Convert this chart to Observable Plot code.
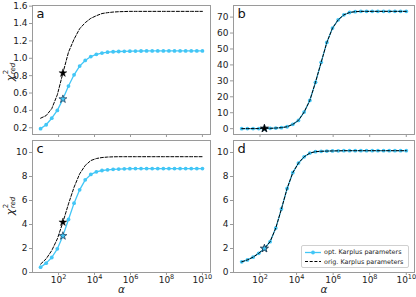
<!DOCTYPE html>
<html><head><meta charset="utf-8">
<script src="https://cdn.jsdelivr.net/npm/d3@7"></script>
<script src="https://cdn.jsdelivr.net/npm/@observablehq/plot@0.6"></script>
<style>
body{margin:0;background:#fff;}
#fig{position:relative;width:416px;height:297px;font-family:"DejaVu Sans",sans-serif;overflow:hidden;background:#fff;}
#fig svg.plotsvg{position:absolute;}
.ylab{position:absolute;transform:translate(-50%,-50%) rotate(-90deg);white-space:nowrap;font-size:11px;color:#222;display:flex;align-items:center;}
.ylab .ss{display:inline-flex;flex-direction:column;font-size:7px;line-height:7px;margin-left:0.5px;}
.legend{position:absolute;left:301px;top:245px;width:106px;height:21px;border:1px solid #d0d0d0;border-radius:2px;background:#fff;font-size:6.4px;color:#222;}
.legend .row{position:absolute;left:3px;display:flex;align-items:center;white-space:nowrap;}
.legend svg{margin-right:3px;}
</style>
</head><body><div id="fig"></div>
<script>
// x values (alpha)
const alpha = [10, 20.43, 41.75, 85.32, 174.3, 356.2, 727.9, 1487, 3039, 6210,
  12690, 25929, 52983, 108264, 221222, 452035, 923671, 1887392, 3856620, 7880463,
  16102620, 32903446, 67233575, 137382380, 280721620, 573615251, 1172102213, 2395026619, 4893900918, 10000000000];

// panel a
const aOpt = [0.19, 0.235, 0.31, 0.40, 0.53, 0.68, 0.81, 0.91, 0.975, 1.02,
  1.045, 1.06, 1.07, 1.075, 1.078, 1.08, 1.082, 1.083, 1.084, 1.085,
  1.085, 1.085, 1.085, 1.085, 1.085, 1.085, 1.085, 1.085, 1.085, 1.085];
const aOrig = [0.31, 0.34, 0.42, 0.58, 0.83, 1.07, 1.22, 1.34, 1.41, 1.46,
  1.49, 1.515, 1.525, 1.532, 1.536, 1.538, 1.54, 1.54, 1.54, 1.54,
  1.54, 1.54, 1.54, 1.54, 1.54, 1.54, 1.54, 1.54, 1.54, 1.54];
// panel b
const bOpt = [0.02, 0.03, 0.05, 0.08, 0.12, 0.2, 0.4, 0.65, 1.2, 2.7,
  5.2, 10.4, 17.7, 29.1, 41.6, 54.1, 63.1, 68.3, 71.4, 72.9,
  73.4, 73.6, 73.6, 73.6, 73.6, 73.6, 73.6, 73.6, 73.6, 73.6];
const bOrig = [0.02, 0.03, 0.05, 0.08, 0.12, 0.2, 0.4, 0.65, 1.2, 2.7,
  5.2, 10.4, 17.7, 29.1, 41.6, 54.1, 63.1, 68.3, 71.4, 72.9,
  73.4, 73.6, 73.6, 73.6, 73.6, 73.6, 73.6, 73.6, 73.6, 73.6];
// panel c
const cOpt = [0.44, 0.78, 1.25, 1.97, 3.05, 4.42, 5.78, 6.89, 7.72, 8.17,
  8.39, 8.5, 8.56, 8.6, 8.62, 8.64, 8.65, 8.66, 8.66, 8.66,
  8.66, 8.66, 8.66, 8.66, 8.66, 8.66, 8.66, 8.66, 8.66, 8.66];
const cOrig = [0.7, 1.14, 1.83, 2.8, 4.19, 5.72, 7.11, 8.22, 8.92, 9.33,
  9.5, 9.58, 9.62, 9.64, 9.65, 9.65, 9.65, 9.65, 9.65, 9.65,
  9.65, 9.65, 9.65, 9.65, 9.65, 9.65, 9.65, 9.65, 9.65, 9.65];
// panel d
const dOpt = [0.89, 1.05, 1.28, 1.6, 2.0, 2.57, 3.7, 5.3, 7.0, 8.32,
  9.12, 9.64, 9.95, 10.07, 10.1, 10.12, 10.13, 10.14, 10.15, 10.15,
  10.15, 10.15, 10.15, 10.15, 10.15, 10.15, 10.15, 10.15, 10.15, 10.15];
const dOrig = [0.89, 1.05, 1.28, 1.6, 2.0, 2.57, 3.7, 5.3, 7.0, 8.32,
  9.12, 9.64, 9.95, 10.07, 10.1, 10.12, 10.13, 10.14, 10.15, 10.15,
  10.15, 10.15, 10.15, 10.15, 10.15, 10.15, 10.15, 10.15, 10.15, 10.15];

const starIndex = 4;
const xTicks = [1e2, 1e4, 1e6, 1e8, 1e10];
const xTickExponents = ["2", "4", "6", "8", "10"];
const aTicks = [0.2, 0.4, 0.6, 0.8, 1.0, 1.2, 1.4, 1.6];
const bTicks = [0, 10, 20, 30, 40, 50, 60, 70];
const cdTicks = [0, 2, 4, 6, 8, 10];
const cdLimits = [0, 11];
const seriesNames = ["opt. Karplus parameters", "orig. Karplus parameters"];
const panelLetters = ["a", "b", "c", "d"];
const yLabel = "χ";

const BLUE = "#42c6f6";
const GRID = "#9a9a9a";
const TXT = "#222";

function padDomain(a, b) {
  const all = a.concat(b);
  const lo = d3.min(all), hi = d3.max(all), pad = (hi - lo) * 0.05;
  return [lo - pad, hi + pad];
}

const panels = [
  {letter: panelLetters[0], opt: aOpt, orig: aOrig, left: 0, top: 0, w: 212, h: 140, mb: 6, xlab: false, yticks: aTicks, fmt: d3.format(".1f"), ydomain: padDomain(aOpt, aOrig), blueTop: false},
  {letter: panelLetters[1], opt: bOpt, orig: bOrig, left: 201, top: 0, w: 215, h: 140, mb: 6, xlab: false, yticks: bTicks, fmt: d3.format("d"), ydomain: padDomain(bOpt, bOrig), blueTop: false},
  {letter: panelLetters[2], opt: cOpt, orig: cOrig, left: 0, top: 135, w: 212, h: 162, mb: 25, xlab: true, yticks: cdTicks, fmt: d3.format("d"), ydomain: cdLimits, blueTop: false},
  {letter: panelLetters[3], opt: dOpt, orig: dOrig, left: 201, top: 135, w: 215, h: 162, mb: 25, xlab: true, yticks: cdTicks, fmt: d3.format("d"), ydomain: cdLimits, blueTop: true}
];

const fig = document.getElementById("fig");

for (const p of panels) {
  const opt = alpha.map((a, i) => ({a, v: p.opt[i]}));
  const orig = alpha.map((a, i) => ({a, v: p.orig[i]}));
  const blueStar = Plot.dot([opt[starIndex]], {x: "a", y: "v", symbol: "star", fill: BLUE, stroke: "#1d3550", strokeWidth: 0.7, r: 2.5});
  const blackStar = Plot.dot([orig[starIndex]], {x: "a", y: "v", symbol: "star", fill: "black", stroke: "black", strokeWidth: 0.4, r: 2.5});
  const marks = [
    Plot.frame({stroke: GRID, strokeWidth: 1}),
    Plot.axisX({ticks: xTicks, tickSize: 3, tickPadding: 1, stroke: GRID, fill: TXT, label: null,
      tickFormat: p.xlab ? (d => "10^" + xTickExponents[xTicks.indexOf(d)]) : (() => "")}),
    Plot.axisY({ticks: p.yticks, tickSize: 3, tickPadding: 2, stroke: GRID, fill: TXT, label: null, tickFormat: p.fmt}),
    Plot.line(opt, {x: "a", y: "v", stroke: BLUE, strokeWidth: 1.3}),
    Plot.dot(opt, {x: "a", y: "v", fill: BLUE, r: 1.9}),
    Plot.line(orig, {x: "a", y: "v", stroke: "black", strokeWidth: 1, strokeDasharray: "3,1.7"}),
    ...(p.blueTop ? [blackStar, blueStar] : [blueStar, blackStar]),
    Plot.text([p.letter], {frameAnchor: "top-left", dx: 4, dy: 3, fontSize: 13, fill: "#111", textAnchor: "start", lineAnchor: "top"})
  ];
  if (p.xlab) marks.push(Plot.text(["α"], {frameAnchor: "bottom", dy: 20, fontSize: 10.5, fontStyle: "italic", fill: TXT}));
  const chart = Plot.plot({
    width: p.w, height: p.h,
    marginLeft: 32, marginRight: 2, marginTop: 5, marginBottom: p.mb,
    style: {fontFamily: "DejaVu Sans", fontSize: "9px", background: "transparent", overflow: "visible"},
    x: {type: "log", domain: [10 ** 0.55, 10 ** 10.45]},
    y: {domain: p.ydomain},
    marks
  });
  chart.classList.add("plotsvg");
  chart.style.left = p.left + "px";
  chart.style.top = p.top + "px";
  fig.appendChild(chart);
  // turn "10^n" tick labels into base + superscript
  d3.select(chart).selectAll("text").each(function () {
    const t = this.textContent;
    const m = /^10\^(\d+)$/.exec(t);
    if (!m) return;
    const sel = d3.select(this);
    sel.text(null);
    sel.append("tspan").text("10");
    sel.append("tspan").attr("font-size", "6.5px").attr("dy", "-3.5").text(m[1]);
  });
}

// y-axis labels (chi^2_red)
for (const cy of [72, 206]) {
  const d = document.createElement("div");
  d.className = "ylab";
  d.style.left = "10px";
  d.style.top = cy + "px";
  d.innerHTML = `<i>${yLabel}</i><span class="ss"><span>2</span><i>red</i></span>`;
  fig.appendChild(d);
}

// legend
const lg = document.createElement("div");
lg.className = "legend";
lg.innerHTML = `
 <div class="row" style="top:2px"><svg width="16" height="7"><line x1="0" y1="3.5" x2="16" y2="3.5" stroke="${BLUE}" stroke-width="1.3"/><circle cx="8" cy="3.5" r="1.9" fill="${BLUE}"/></svg>${seriesNames[0]}</div>
 <div class="row" style="top:11.5px"><svg width="16" height="7"><line x1="0" y1="3.5" x2="16" y2="3.5" stroke="black" stroke-width="1" stroke-dasharray="3,1.7"/></svg>${seriesNames[1]}</div>`;
fig.appendChild(lg);
</script>
</body></html>
